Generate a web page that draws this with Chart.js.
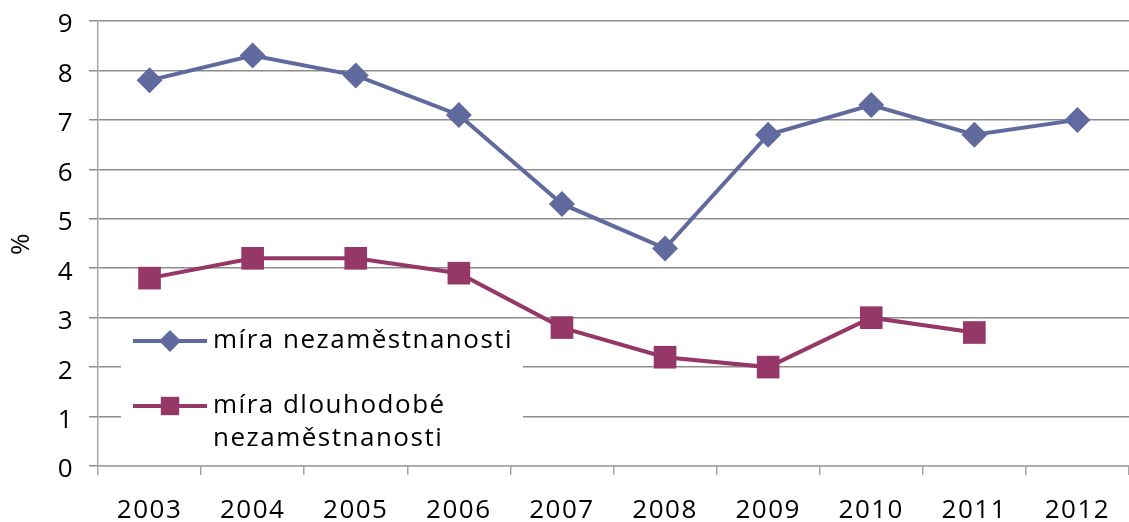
<!DOCTYPE html>
<html lang="cs">
<head>
  <meta charset="UTF-8">
  <title>Míra nezaměstnanosti</title>
  <script src="https://cdn.jsdelivr.net/npm/chart.js"></script>
  <style>
    html, body { margin: 0; padding: 0; background: #fff; overflow: hidden; }
    #chart { display: block; }
  </style>
</head>
<body>
  <canvas id="chart" width="1145" height="522"></canvas>

  <script>
    // data
    const years = ['2003', '2004', '2005', '2006', '2007', '2008', '2009', '2010', '2011', '2012'];
    const unemployment = [7.8, 8.3, 7.9, 7.1, 5.3, 4.4, 6.7, 7.3, 6.7, 7.0];
    const longTermUnemployment = [3.8, 4.2, 4.2, 3.9, 2.8, 2.2, 2.0, 3.0, 2.7, null];
    const yTicks = [0, 1, 2, 3, 4, 5, 6, 7, 8, 9];
    const seriesNames = ['míra nezaměstnanosti', 'míra dlouhodobé nezaměstnanosti'];
    const legendLines = [['míra nezaměstnanosti'], ['míra dlouhodobé', 'nezaměstnanosti']];

    const BLUE = '#606a9e';
    const PURPLE = '#953767';
    const GRID = '#8c8c8c';
    const AXIS = '#a6a6a6';
    const SPACING = '1.5px';
    const FONT = { family: "'Open Sans', sans-serif", size: 26 };

    Chart.defaults.font.family = FONT.family;
    Chart.defaults.font.size = FONT.size;
    Chart.defaults.color = '#000';

    // the text in the picture is spread out a little
    const letterSpacing = {
      id: 'letterSpacing',
      beforeUpdate(chart) { chart.ctx.letterSpacing = SPACING; },
      beforeDraw(chart) { chart.ctx.letterSpacing = SPACING; }
    };

    // legend box sitting inside the plot, lower left
    const boxLegend = {
      id: 'boxLegend',
      afterDatasetsDraw(chart) {
        const ctx = chart.ctx;
        const area = chart.chartArea;
        const left = area.left + 23;
        ctx.save();
        ctx.letterSpacing = SPACING;
        ctx.fillStyle = '#fff';
        ctx.fillRect(left, 322, 402, 138);

        const rows = [341, 406];
        const markers = [
          { pointStyle: 'rectRot', radius: 11, rotation: 0, borderWidth: 0 },
          { pointStyle: 'rect', radius: 13, rotation: 0, borderWidth: 0 }
        ];
        chart.data.datasets.forEach((ds, i) => {
          const y = rows[i];
          ctx.strokeStyle = ds.borderColor;
          ctx.lineWidth = 4;
          ctx.beginPath();
          ctx.moveTo(left + 12, y);
          ctx.lineTo(left + 86, y);
          ctx.stroke();
          ctx.fillStyle = ds.backgroundColor;
          Chart.helpers.drawPoint(ctx, markers[i], left + 49, y);

          ctx.fillStyle = '#000';
          ctx.font = FONT.size + 'px ' + FONT.family;
          ctx.textBaseline = 'middle';
          ctx.textAlign = 'left';
          legendLines[i].forEach((line, j) => {
            ctx.fillText(line, left + 92, y + j * 33);
          });
        });
        ctx.restore();
      }
    };

    new Chart(document.getElementById('chart'), {
      type: 'line',
      data: {
        labels: years,
        datasets: [
          {
            label: seriesNames[0],
            data: unemployment,
            borderColor: BLUE,
            backgroundColor: BLUE,
            borderWidth: 4,
            pointStyle: 'rectRot',
            pointRadius: 13,
            pointBorderWidth: 0,
            tension: 0
          },
          {
            label: seriesNames[1],
            data: longTermUnemployment,
            borderColor: PURPLE,
            backgroundColor: PURPLE,
            borderWidth: 4,
            pointStyle: 'rect',
            pointRadius: 16,
            pointBorderWidth: 0,
            tension: 0
          }
        ]
      },
      options: {
        responsive: false,
        animation: false,
        layout: { padding: { top: 21, right: 6, bottom: 0, left: 0 } },
        plugins: {
          legend: { display: false },
          tooltip: { enabled: false }
        },
        scales: {
          x: {
            offset: true,
            grid: {
              offset: true,
              drawOnChartArea: false,
              drawTicks: true,
              tickLength: 9,
              color: AXIS,
              lineWidth: 1.5
            },
            border: { display: true, color: AXIS, width: 1.5 },
            ticks: { padding: 20, maxRotation: 0, autoSkip: false, font: FONT },
            afterFit(scale) { scale.height = 56; }
          },
          y: {
            min: 0,
            max: 9,
            afterBuildTicks(scale) { scale.ticks = yTicks.map(v => ({ value: v })); },
            grid: { color: GRID, lineWidth: 1.5, tickLength: 9 },
            border: { display: true, color: AXIS, width: 1.5 },
            ticks: { padding: 15, labelOffset: 4, font: FONT },
            title: { display: true, text: '%', font: FONT, padding: { top: 6, bottom: 0 } },
            afterFit(scale) {
              scale.width = 98;
              scale.paddingTop = 0;
              scale.paddingBottom = 0;
            }
          }
        }
      },
      plugins: [letterSpacing, boxLegend]
    });
  </script>
</body>
</html>
